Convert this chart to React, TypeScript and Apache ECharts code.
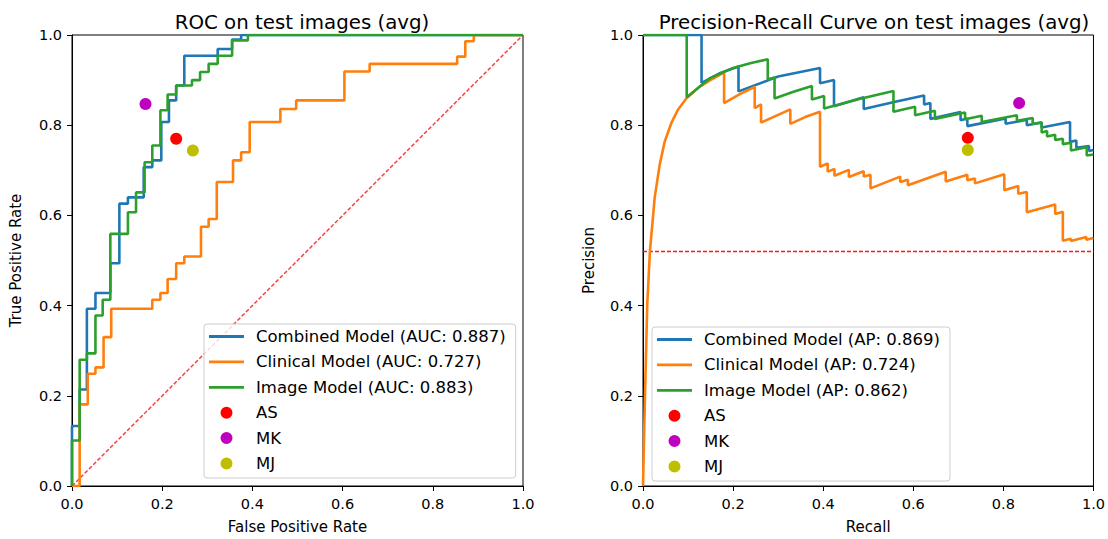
import React, { useEffect, useRef } from 'react';
import * as echarts from 'echarts';

// ---------- ROC data (FPR, TPR) ----------
const rocCombined: number[][] = [
  [0, 0], [0, 0.133], [0.017, 0.133], [0.017, 0.214], [0.033, 0.214], [0.033, 0.393],
  [0.052, 0.393], [0.052, 0.428], [0.085, 0.428], [0.085, 0.494], [0.105, 0.494], [0.105, 0.626],
  [0.124, 0.626], [0.124, 0.640], [0.159, 0.640], [0.159, 0.707], [0.178, 0.707], [0.178, 0.722],
  [0.198, 0.722], [0.198, 0.807], [0.215, 0.807], [0.215, 0.855], [0.231, 0.855], [0.231, 0.888],
  [0.249, 0.888], [0.249, 0.954], [0.323, 0.954], [0.323, 0.969], [0.355, 0.969], [0.355, 0.990],
  [0.375, 0.990], [0.375, 1], [1, 1],
];
const rocClinical: number[][] = [
  [0, 0], [0.017, 0], [0.017, 0.181], [0.035, 0.181], [0.035, 0.249], [0.052, 0.249], [0.052, 0.263],
  [0.070, 0.263], [0.070, 0.330], [0.087, 0.330], [0.087, 0.393], [0.178, 0.393], [0.178, 0.413],
  [0.196, 0.413], [0.196, 0.428], [0.212, 0.428], [0.212, 0.459], [0.231, 0.459], [0.231, 0.494],
  [0.249, 0.494], [0.249, 0.509], [0.286, 0.509], [0.286, 0.575], [0.303, 0.575], [0.303, 0.592],
  [0.321, 0.592], [0.321, 0.674], [0.357, 0.674], [0.357, 0.722], [0.375, 0.722], [0.375, 0.740],
  [0.394, 0.740], [0.394, 0.807], [0.462, 0.807], [0.462, 0.836], [0.497, 0.836], [0.497, 0.855],
  [0.604, 0.855], [0.604, 0.919], [0.660, 0.919], [0.660, 0.936], [0.854, 0.936], [0.854, 0.952],
  [0.872, 0.952], [0.872, 0.986], [0.891, 0.986], [0.891, 1], [1, 1],
];
const rocImage: number[][] = [
  [0, 0], [0, 0.101], [0.017, 0.101], [0.017, 0.280], [0.033, 0.280], [0.033, 0.294], [0.052, 0.294],
  [0.052, 0.378], [0.068, 0.378], [0.068, 0.413], [0.085, 0.413], [0.085, 0.559], [0.124, 0.559],
  [0.124, 0.607], [0.142, 0.607], [0.142, 0.651], [0.161, 0.651], [0.161, 0.718], [0.178, 0.718],
  [0.178, 0.755], [0.196, 0.755], [0.196, 0.833], [0.212, 0.833], [0.212, 0.868], [0.231, 0.868],
  [0.231, 0.888], [0.266, 0.888], [0.266, 0.900], [0.284, 0.900], [0.284, 0.918], [0.303, 0.918],
  [0.303, 0.936], [0.323, 0.936], [0.323, 0.954], [0.355, 0.954], [0.355, 0.988], [0.390, 0.988],
  [0.390, 1], [1, 1],
];

// ---------- PR data (Recall, Precision) ----------
const prCombined: number[][] = [
  [0, 1], [0.13, 1], [0.13, 0.894], [0.17, 0.915], [0.212, 0.93], [0.212, 0.875], [0.30, 0.908],
  [0.393, 0.927], [0.393, 0.893], [0.424, 0.9], [0.424, 0.842], [0.49, 0.862], [0.49, 0.836],
  [0.56, 0.852], [0.624, 0.866], [0.624, 0.846], [0.638, 0.849], [0.638, 0.814], [0.705, 0.829],
  [0.705, 0.811], [0.72, 0.815], [0.72, 0.798], [0.805, 0.815], [0.805, 0.803], [0.852, 0.812],
  [0.852, 0.8], [0.885, 0.806], [0.885, 0.795], [0.948, 0.807], [0.948, 0.763], [0.962, 0.766],
  [0.962, 0.75], [0.99, 0.754], [0.99, 0.743], [1, 0.745],
];
const prClinical: number[][] = [
  [0, 0], [0.0044, 0.2], [0.0095, 0.404], [0.0154, 0.521], [0.026, 0.64], [0.037, 0.712],
  [0.048, 0.763], [0.063, 0.805], [0.078, 0.835], [0.096, 0.859], [0.125, 0.885], [0.155, 0.903],
  [0.18, 0.917], [0.18, 0.849], [0.215, 0.869], [0.248, 0.885], [0.248, 0.838], [0.262, 0.846],
  [0.262, 0.806], [0.30, 0.823], [0.327, 0.835], [0.327, 0.803], [0.36, 0.818], [0.393, 0.83],
  [0.393, 0.708], [0.41, 0.715], [0.41, 0.697], [0.425, 0.703], [0.425, 0.688], [0.457, 0.701],
  [0.457, 0.685], [0.49, 0.698], [0.49, 0.686], [0.505, 0.69], [0.505, 0.66], [0.571, 0.686],
  [0.571, 0.674], [0.588, 0.679], [0.588, 0.667], [0.672, 0.697], [0.672, 0.675], [0.72, 0.69],
  [0.72, 0.678], [0.737, 0.682], [0.737, 0.671], [0.802, 0.691], [0.802, 0.656], [0.833, 0.665],
  [0.833, 0.648], [0.852, 0.652], [0.852, 0.607], [0.915, 0.624], [0.915, 0.603], [0.932, 0.608],
  [0.932, 0.544], [0.95, 0.548], [0.95, 0.543], [0.984, 0.552], [0.984, 0.546], [1, 0.55],
];
const prImage: number[][] = [
  [0, 1], [0.097, 1], [0.097, 0.862], [0.15, 0.905], [0.2, 0.927], [0.24, 0.938], [0.277, 0.946],
  [0.277, 0.902], [0.292, 0.906], [0.292, 0.859], [0.334, 0.874], [0.375, 0.887], [0.375, 0.857],
  [0.402, 0.865], [0.402, 0.837], [0.48, 0.858], [0.556, 0.876], [0.556, 0.83], [0.604, 0.841],
  [0.604, 0.822], [0.648, 0.832], [0.648, 0.814], [0.715, 0.828], [0.715, 0.813], [0.752, 0.821],
  [0.752, 0.807], [0.83, 0.822], [0.83, 0.81], [0.865, 0.816], [0.865, 0.803], [0.885, 0.806],
  [0.885, 0.784], [0.897, 0.787], [0.897, 0.775], [0.915, 0.779], [0.915, 0.767], [0.932, 0.77],
  [0.932, 0.758], [0.95, 0.761], [0.95, 0.744], [0.985, 0.751], [0.985, 0.733], [1, 0.735],
];

// ---------- reader points ----------
const rocReaders: { name: string; point: number[]; color: string }[] = [
  { name: 'AS', point: [0.231, 0.770], color: '#ff0000' },
  { name: 'MK', point: [0.163, 0.847], color: '#bf00bf' },
  { name: 'MJ', point: [0.268, 0.744], color: '#bfbf00' },
];
const prReaders: { name: string; point: number[]; color: string }[] = [
  { name: 'AS', point: [0.721, 0.772], color: '#ff0000' },
  { name: 'MK', point: [0.835, 0.849], color: '#bf00bf' },
  { name: 'MJ', point: [0.721, 0.745], color: '#bfbf00' },
];

const chanceLine: number[][] = [[0, 0], [1, 1]];
const prBaseline = 0.52;

const rocNames = ['Combined Model (AUC: 0.887)', 'Clinical Model (AUC: 0.727)', 'Image Model (AUC: 0.883)'];
const prNames = ['Combined Model (AP: 0.869)', 'Clinical Model (AP: 0.724)', 'Image Model (AP: 0.862)'];
const modelColors = ['#1f77b4', '#ff7f0e', '#2ca02c'];
const tickValues = [0, 0.2, 0.4, 0.6, 0.8, 1.0];

const FONT = 'DejaVu Sans';
const LINE_ICON = 'path://M0,0L0.01,0L0,0.01Z M42,12L41.99,12L42,11.99Z M0,4.6L35,4.6L35,7.4L0,7.4Z';
const DOT_ICON = 'path://M0,0L0.01,0L0,0.01Z M42,12L41.99,12L42,11.99Z M11.5,6A6,6 0 1,0 23.5,6A6,6 0 1,0 11.5,6Z';

function makeAxis(gridIndex: number, name: string, nameGap: number) {
  return {
    gridIndex,
    type: 'value',
    min: tickValues[0],
    max: tickValues[tickValues.length - 1],
    interval: 0.2,
    name,
    nameLocation: 'middle',
    nameGap,
    nameTextStyle: { fontSize: 15, color: '#000', fontFamily: FONT },
    axisLine: { show: true, onZero: false, lineStyle: { color: '#000', width: 1 } },
    axisTick: { show: true, inside: false, length: 5, lineStyle: { color: '#000', width: 1 } },
    axisLabel: {
      show: true,
      margin: 10,
      fontSize: 14.5,
      color: '#000',
      fontFamily: FONT,
      formatter: (v: number) => v.toFixed(1),
    },
    splitLine: { show: false },
  };
}

function makeLegend(names: string[], left: number, top: number) {
  return {
    left,
    top,
    orient: 'vertical',
    selectedMode: false,
    itemWidth: 42,
    itemHeight: 12,
    itemGap: 8.4,
    padding: [4, 10, 6, 5],
    backgroundColor: 'rgba(255,255,255,0.8)',
    borderColor: '#cccccc',
    borderWidth: 1,
    borderRadius: 3,
    itemStyle: { borderWidth: 0 },
    textStyle: { fontSize: 16.5, color: '#000', fontFamily: FONT, lineHeight: 17 },
    data: [
      ...names.map((n) => ({ name: n, icon: LINE_ICON })),
      ...rocReaders.map((r) => ({ name: r.name, icon: DOT_ICON })),
    ],
  };
}

export default function App() {
  const ref = useRef<HTMLDivElement>(null);
  useEffect(() => {
    if (!ref.current) return;
    const chart = echarts.init(ref.current, null, { renderer: 'svg' });
    const curveSeries = (data: number[][][], names: string[], gi: number) =>
      data.map((d, i) => ({
        type: 'line',
        name: names[i],
        xAxisIndex: gi,
        yAxisIndex: gi,
        data: d,
        color: modelColors[i],
        showSymbol: false,
        symbol: 'none',
        lineStyle: { color: modelColors[i], width: 2.6 },
        itemStyle: { color: modelColors[i] },
        z: 3 + i,
      }));
    const readerSeries = (readers: typeof rocReaders, gi: number) =>
      readers.map((r) => ({
        type: 'scatter',
        name: r.name,
        xAxisIndex: gi,
        yAxisIndex: gi,
        data: [r.point],
        symbolSize: 12,
        color: r.color,
        itemStyle: { color: r.color, opacity: 1 },
        z: 10,
      }));
    const option: any = {
      animation: false,
      textStyle: { fontFamily: FONT },
      title: [
        {
          text: 'ROC on test images (avg)',
          left: 297,
          top: 7,
          textAlign: 'center',
          textStyle: { fontSize: 19.8, fontWeight: 'normal', color: '#000', fontFamily: FONT },
        },
        {
          text: 'Precision-Recall Curve on test images (avg)',
          left: 869,
          top: 7,
          textAlign: 'center',
          textStyle: { fontSize: 19.8, fontWeight: 'normal', color: '#000', fontFamily: FONT },
        },
      ],
      grid: [
        { left: 72, top: 35, width: 451, height: 451, show: true, borderColor: '#000', borderWidth: 1, backgroundColor: '#fff' },
        { left: 643, top: 35, width: 454, height: 455, show: true, borderColor: '#000', borderWidth: 1, backgroundColor: '#fff' },
      ],
      xAxis: [makeAxis(0, 'False Positive Rate', 33), makeAxis(1, 'Recall', 33)],
      yAxis: [makeAxis(0, 'True Positive Rate', 49), makeAxis(1, 'Precision', 47)],
      legend: [makeLegend(rocNames, 204, 324), makeLegend(prNames, 652, 327)],
      series: [
        {
          type: 'line',
          name: 'chance',
          xAxisIndex: 0,
          yAxisIndex: 0,
          data: chanceLine,
          showSymbol: false,
          symbol: 'none',
          lineStyle: { color: '#ff0000', width: 1.4, type: [4, 2], opacity: 0.8 },
          z: 2,
        },
        ...curveSeries([rocCombined, rocClinical, rocImage], rocNames, 0),
        ...readerSeries(rocReaders, 0),
        {
          type: 'line',
          name: 'baseline',
          xAxisIndex: 1,
          yAxisIndex: 1,
          data: [[0, prBaseline], [1, prBaseline]],
          showSymbol: false,
          symbol: 'none',
          lineStyle: { color: '#ff0000', width: 1.3, type: [4, 2], opacity: 0.9 },
          z: 2,
        },
        ...curveSeries([prCombined, prClinical, prImage], prNames, 1),
        ...readerSeries(prReaders, 1),
      ],
    };
    chart.setOption(option);
    return () => chart.dispose();
  }, []);
  return (
    <div
      ref={ref}
      style={{ position: 'absolute', left: 0, top: 0, width: 1108, height: 539, background: '#fff' }}
    />
  );
}
